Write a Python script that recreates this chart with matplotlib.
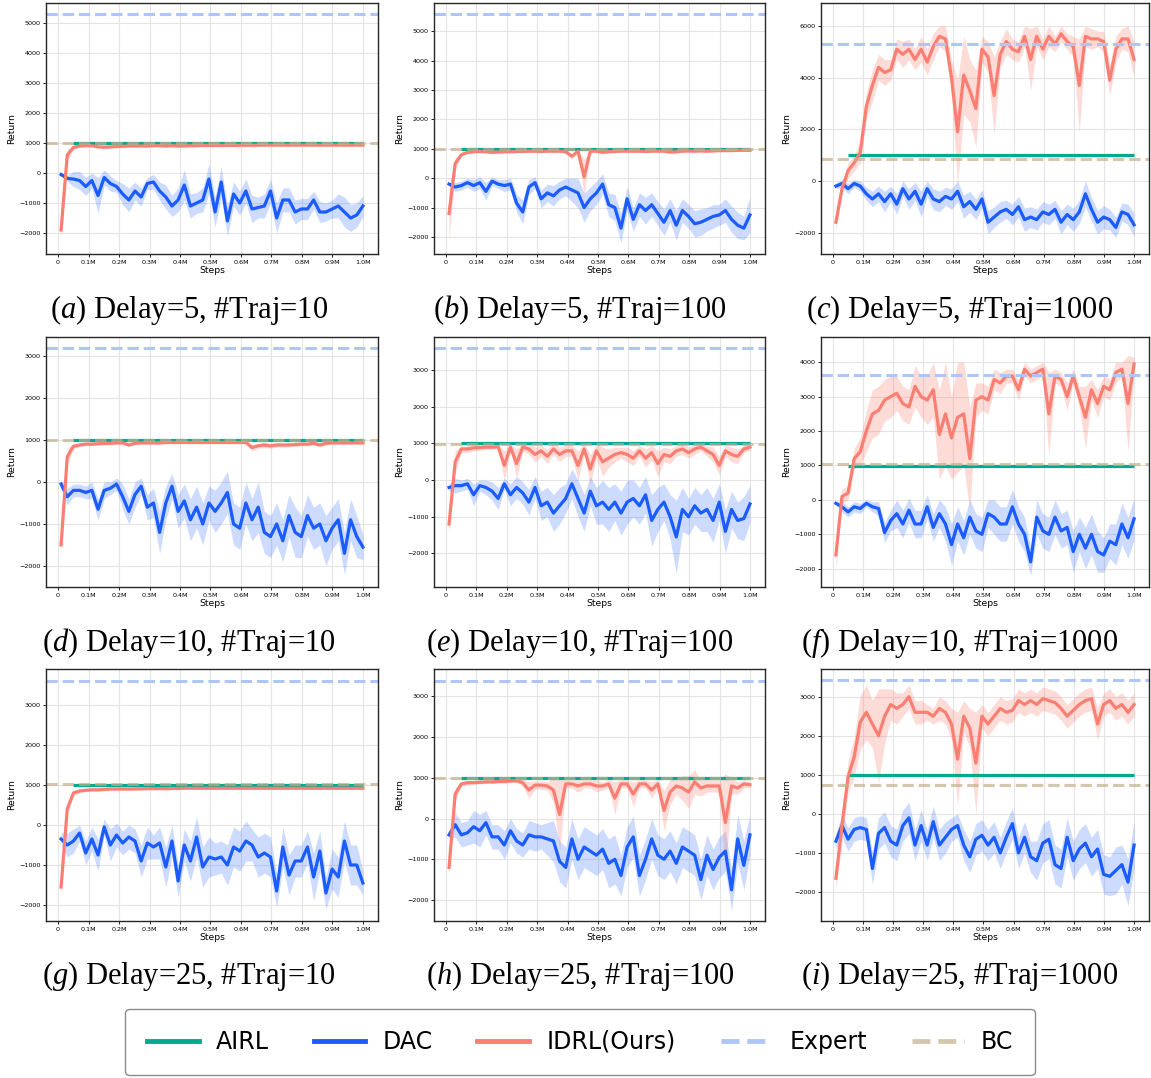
import numpy as np
import matplotlib
matplotlib.use("Agg")
import matplotlib.pyplot as plt
from matplotlib.lines import Line2D
from matplotlib.ticker import MultipleLocator

plt.rcParams['mathtext.fontset'] = 'custom'
plt.rcParams['mathtext.rm'] = 'Liberation Serif'
plt.rcParams['mathtext.it'] = 'Liberation Serif:italic'

# ---------------- data ----------------
steps = np.linspace(0.01, 1.0, 50)   # in millions
xtick_vals = [0, 0.1, 0.2, 0.3, 0.4, 0.5, 0.6, 0.7, 0.8, 0.9, 1.0]
xtick_labels = ['0', '0.1M', '0.2M', '0.3M', '0.4M', '0.5M', '0.6M', '0.7M', '0.8M', '0.9M', '1.0M']

captions = ['($a$) Delay=5, #Traj=10', '($b$) Delay=5, #Traj=100', '($c$) Delay=5, #Traj=1000',
            '($d$) Delay=10, #Traj=10', '($e$) Delay=10, #Traj=100', '($f$) Delay=10, #Traj=1000',
            '($g$) Delay=25, #Traj=10', '($h$) Delay=25, #Traj=100', '($i$) Delay=25, #Traj=1000']

expert_vals = [5289, 5579, 5289, 3182, 3599, 3623, 3609, 3385, 3436]
bc_vals = [1000, 1000, 845, 1010, 980, 1030, 1030, 990, 735]
airl_vals = [995, 995, 1000, 990, 1000, 990, 990, 1000, 1000]
airl_start = 0.05
airl_end = 1.0

# (a)
dac_a = [-50, -180, -200, -250, -450, -250, -750, -150, -350, -450,
         -700, -900, -600, -800, -350, -300, -600, -800, -1100, -900,
         -400, -1100, -1000, -900, -200, -1300, -300, -1600, -700, -1000,
         -600, -1200, -1150, -1100, -600, -1500, -900, -900, -1300, -1200,
         -1200, -900, -1300, -1300, -1200, -1100, -1300, -1500, -1400, -1100]
dac_a_sd = [50, 100, 250, 300, 300, 250, 600, 250, 250, 200,
            350, 400, 300, 300, 200, 250, 300, 400, 350, 400,
            500, 400, 350, 400, 500, 500, 500, 500, 400, 400,
            400, 450, 350, 400, 400, 500, 400, 400, 400, 350,
            350, 300, 350, 300, 300, 400, 500, 450, 400, 350]
idrl_a = [-1900, 600, 850, 900, 910, 910, 870, 860, 870, 880,
          890, 900, 900, 900, 900, 910, 910, 900, 910, 900,
          900, 910, 910, 920, 920, 920, 920, 920, 920, 925,
          925, 925, 925, 930, 930, 930, 930, 930, 930, 930,
          930, 930, 930, 930, 930, 930, 930, 930, 930, 930]
idrl_a_sd = [400, 200, 60, 30, 30, 30, 30, 30, 30, 30,
             30, 30, 30, 30, 30, 30, 30, 30, 30, 30,
             30, 30, 30, 30, 30, 30, 30, 30, 30, 30,
             30, 30, 30, 30, 30, 30, 30, 30, 30, 30,
             30, 30, 30, 30, 30, 30, 30, 30, 30, 30]

# (b)
dac_b = [-200, -300, -250, -150, -250, -150, -450, -100, -200, -250,
         -200, -850, -1150, -300, -150, -700, -500, -600, -400, -300,
         -400, -500, -1000, -700, -500, -200, -900, -1000, -1700, -700,
         -1400, -900, -1100, -900, -1200, -1500, -1100, -1600, -1100, -1300,
         -1550, -1500, -1400, -1300, -1250, -1100, -1400, -1600, -1700, -1250]
dac_b_sd = [50, 150, 150, 150, 200, 200, 300, 150, 150, 200,
            200, 300, 400, 250, 200, 300, 300, 350, 300, 300,
            400, 500, 500, 400, 400, 350, 400, 450, 500, 400,
            400, 400, 450, 400, 400, 450, 400, 500, 400, 400,
            450, 450, 400, 400, 350, 400, 450, 450, 400, 600]
idrl_b = [-1200, 500, 800, 880, 900, 910, 900, 880, 890, 900,
          900, 910, 910, 920, 920, 910, 920, 920, 920, 900,
          750, 920, 50, 920, 920, 880, 900, 910, 920, 920,
          920, 920, 910, 920, 920, 920, 890, 900, 920, 930,
          920, 930, 920, 930, 940, 940, 940, 950, 950, 950]
idrl_b_sd = [900, 200, 60, 40, 30, 30, 30, 30, 30, 30,
             30, 30, 30, 30, 30, 30, 30, 30, 30, 40,
             100, 40, 600, 40, 30, 40, 40, 40, 40, 40,
             40, 40, 40, 40, 40, 40, 60, 40, 40, 40,
             40, 40, 40, 40, 40, 40, 40, 40, 40, 40]

# (c)
dac_c = [-200, -100, -300, -100, -200, -500, -700, -500, -800, -500,
         -900, -300, -700, -400, -900, -300, -700, -800, -600, -700,
         -400, -1000, -800, -1100, -700, -1600, -1400, -1200, -1100, -1300,
         -1000, -1500, -1400, -1500, -1200, -1300, -1100, -1600, -1300, -1500,
         -1200, -500, -1100, -1600, -1400, -1500, -1800, -1200, -1300, -1700]
dac_c_sd = [100, 150, 200, 150, 200, 250, 300, 300, 400, 300,
            400, 300, 400, 350, 500, 300, 400, 400, 350, 400,
            400, 450, 400, 400, 350, 450, 400, 400, 350, 400,
            400, 450, 400, 400, 400, 400, 350, 450, 400, 450,
            450, 500, 450, 450, 450, 400, 400, 350, 400, 450]
idrl_c = [-1600, -300, 400, 700, 1100, 2900, 3700, 4400, 4200, 4300,
          5100, 4900, 5100, 4700, 5100, 4600, 5200, 5600, 5500, 4000,
          1900, 4100, 3500, 2800, 5100, 4800, 3300, 4900, 5400, 5100,
          5000, 5600, 4700, 5600, 5100, 5600, 5300, 5700, 5400, 5200,
          3700, 5600, 5500, 5500, 5400, 3900, 5100, 5500, 5500, 4700]
idrl_c_sd = [300, 200, 300, 300, 400, 500, 600, 500, 500, 400,
             400, 500, 400, 400, 500, 500, 500, 400, 500, 700,
             2000, 1500, 1200, 1500, 500, 600, 1500, 500, 500, 400,
             400, 400, 1200, 400, 400, 400, 300, 300, 300, 400,
             1800, 400, 400, 300, 400, 600, 500, 400, 500, 700]

# (d)
dac_d = [-50, -350, -200, -200, -250, -200, -650, -200, -150, -50,
         -350, -700, -300, -100, -600, -500, -1200, -500, -100, -700,
         -450, -900, -600, -1000, -500, -700, -500, -250, -1000, -1100,
         -500, -900, -600, -1200, -1300, -1000, -1400, -800, -1200, -1300,
         -800, -1100, -1000, -1400, -1100, -900, -1700, -900, -1300, -1550]
dac_d_sd = [100, 200, 150, 150, 150, 200, 250, 200, 150, 150,
            300, 300, 300, 200, 300, 350, 500, 400, 300, 400,
            400, 500, 500, 500, 400, 500, 500, 500, 500, 500,
            500, 500, 600, 500, 500, 500, 500, 500, 600, 500,
            500, 500, 500, 600, 500, 500, 500, 500, 500, 300]
idrl_d = [-1500, 600, 850, 880, 900, 900, 910, 920, 920, 930,
          930, 880, 920, 930, 930, 930, 930, 940, 940, 940,
          940, 940, 940, 940, 940, 940, 940, 940, 940, 940,
          940, 820, 860, 880, 860, 880, 880, 880, 890, 900,
          900, 920, 880, 920, 930, 930, 930, 930, 930, 930]
idrl_d_sd = [300, 200, 60, 40, 30, 30, 30, 30, 30, 30,
             30, 40, 30, 30, 30, 30, 30, 30, 30, 30,
             30, 30, 30, 30, 30, 30, 30, 30, 30, 30,
             30, 80, 60, 60, 60, 50, 50, 50, 40, 40,
             40, 40, 50, 40, 30, 30, 30, 30, 30, 30]

# (e)
dac_e = [-200, -150, -150, -100, -400, -150, -200, -300, -500, -100,
         -400, -200, -350, -600, -200, -700, -600, -900, -700, -500,
         -100, -500, -900, -300, -700, -600, -800, -600, -900, -600,
         -500, -700, -400, -1100, -800, -600, -1000, -1550, -800, -1000,
         -700, -900, -800, -1100, -600, -1400, -800, -1100, -1050, -650]
dac_e_sd = [100, 200, 150, 150, 300, 150, 200, 250, 300, 150,
            300, 300, 300, 350, 300, 400, 400, 500, 500, 400,
            400, 500, 500, 400, 500, 600, 600, 500, 600, 600,
            500, 500, 500, 700, 600, 500, 600, 1000, 600, 500,
            500, 500, 600, 600, 500, 600, 500, 500, 600, 500]
idrl_e = [-1200, 500, 850, 850, 880, 890, 900, 900, 910, 400,
          900, 450, 900, 850, 700, 800, 650, 850, 700, 800,
          800, 400, 850, 300, 800, 500, 600, 700, 750, 700,
          600, 800, 600, 750, 450, 700, 650, 800, 850, 750,
          850, 900, 800, 700, 400, 800, 700, 650, 850, 900]
idrl_e_sd = [200, 300, 100, 100, 80, 80, 60, 60, 60, 400,
             100, 400, 100, 150, 200, 150, 200, 150, 200, 150,
             150, 400, 150, 400, 200, 400, 250, 200, 150, 200,
             200, 150, 250, 200, 350, 200, 200, 150, 150, 150,
             150, 100, 150, 200, 250, 150, 200, 200, 100, 80]

# (f)
dac_f = [-100, -200, -350, -200, -250, -100, -200, -250, -950, -600,
         -400, -700, -300, -700, -700, -200, -800, -400, -700, -1300,
         -700, -1100, -500, -900, -1000, -400, -500, -700, -700, -200,
         -700, -1000, -1800, -500, -900, -1000, -500, -900, -800, -1500,
         -1000, -1400, -1000, -1500, -1600, -1200, -1300, -700, -1100, -550]
dac_f_sd = [50, 150, 150, 150, 150, 100, 150, 200, 300, 300,
            400, 400, 350, 400, 400, 350, 400, 400, 500, 600,
            500, 500, 500, 500, 500, 400, 500, 500, 500, 500,
            500, 500, 400, 500, 500, 500, 500, 500, 500, 600,
            500, 600, 600, 600, 500, 500, 600, 600, 600, 600]
idrl_f = [-1600, 100, 200, 1200, 1400, 2000, 2500, 2600, 2900, 3000,
          3100, 2800, 2700, 3300, 3000, 2900, 3200, 1900, 2500, 1800,
          2400, 2500, 1200, 2900, 3000, 2900, 3500, 3400, 3600, 3600,
          3200, 3800, 3600, 3700, 3800, 2500, 3600, 3500, 3000, 3600,
          3000, 2400, 3200, 2800, 3300, 3200, 3700, 3800, 2800, 3950]
idrl_f_sd = [400, 200, 200, 300, 400, 600, 700, 700, 600, 600,
             500, 500, 500, 600, 600, 700, 800, 1300, 1500, 1200,
             1600, 1500, 1500, 500, 400, 400, 300, 300, 200, 200,
             300, 200, 200, 200, 200, 1200, 200, 200, 400, 200,
             300, 900, 300, 400, 300, 300, 300, 200, 1400, 200]

# (g)
dac_g = [-350, -500, -400, -200, -700, -350, -750, -50, -500, -250,
         -450, -300, -400, -900, -450, -550, -450, -1050, -400, -1400,
         -500, -900, -300, -1050, -800, -850, -800, -1000, -550, -650,
         -400, -500, -800, -700, -800, -1650, -550, -1250, -900, -900,
         -550, -1300, -650, -1700, -1100, -1300, -400, -1000, -1000, -1450]
dac_g_sd = [150, 300, 300, 200, 300, 300, 400, 200, 400, 300,
            300, 300, 300, 400, 400, 300, 400, 500, 400, 400,
            400, 500, 500, 500, 500, 400, 400, 500, 500, 500,
            500, 400, 500, 500, 500, 400, 500, 500, 400, 400,
            400, 600, 500, 400, 500, 500, 500, 500, 500, 300]
idrl_g = [-1550, 400, 800, 850, 870, 880, 880, 890, 900, 900,
          900, 900, 905, 905, 910, 910, 910, 910, 915, 915,
          920, 920, 920, 920, 920, 920, 920, 920, 920, 920,
          920, 920, 920, 920, 920, 920, 920, 920, 920, 920,
          920, 920, 920, 920, 920, 920, 920, 920, 920, 920]
idrl_g_sd = [200, 150, 60, 40, 30, 30, 30, 30, 30, 30,
             30, 30, 30, 30, 30, 30, 30, 30, 30, 30,
             30, 30, 30, 30, 30, 30, 30, 30, 30, 30,
             30, 30, 30, 30, 30, 30, 30, 30, 30, 30,
             30, 30, 30, 30, 30, 30, 30, 30, 30, 30]

# (h)
dac_h = [-400, -150, -400, -350, -200, -300, -100, -450, -450, -650,
         -300, -550, -650, -400, -450, -450, -500, -550, -1050, -1200,
         -500, -1000, -700, -800, -900, -750, -1100, -1000, -1400, -700,
         -450, -1400, -1000, -500, -900, -1000, -800, -1100, -700, -800,
         -900, -1500, -900, -1250, -950, -800, -1750, -500, -1150, -400]
dac_h_sd = [100, 300, 300, 300, 400, 400, 300, 300, 300, 350,
            300, 300, 300, 350, 350, 300, 400, 500, 500, 500,
            500, 500, 500, 500, 500, 500, 600, 600, 500, 500,
            500, 500, 500, 500, 500, 500, 500, 500, 500, 500,
            500, 500, 500, 500, 500, 500, 500, 600, 600, 500]
idrl_h = [-1200, 600, 850, 880, 880, 890, 900, 900, 910, 910,
          920, 930, 880, 700, 820, 820, 800, 700, 100, 850,
          850, 800, 850, 850, 800, 800, 850, 500, 850, 850,
          600, 850, 850, 700, 850, 200, 650, 800, 750, 650,
          900, 750, 800, 800, 800, -100, 800, 750, 850, 830]
idrl_h_sd = [200, 150, 60, 50, 40, 40, 40, 40, 40, 40,
             40, 40, 80, 200, 100, 100, 100, 300, 900, 100,
             100, 150, 100, 100, 150, 100, 100, 400, 100, 100,
             300, 100, 100, 200, 100, 500, 300, 200, 300, 400,
             300, 200, 150, 150, 150, 1200, 200, 150, 100, 80]

# (i)
dac_i = [-700, -300, -650, -400, -350, -400, -1400, -500, -350, -700,
         -800, -300, -100, -800, -300, -800, -200, -800, -600, -400,
         -300, -800, -1100, -650, -550, -800, -600, -1000, -600, -250,
         -1000, -600, -1100, -1200, -750, -650, -1300, -1400, -600, -1200,
         -900, -750, -1100, -900, -1550, -1600, -1450, -1300, -1750, -800]
dac_i_sd = [200, 300, 300, 300, 300, 300, 400, 400, 400, 400,
            400, 400, 400, 400, 400, 400, 400, 400, 400, 300,
            300, 400, 400, 400, 400, 400, 400, 400, 400, 400,
            400, 400, 400, 500, 500, 500, 500, 500, 500, 500,
            500, 500, 500, 500, 500, 500, 600, 500, 600, 600]
idrl_i = [-1650, -300, 950, 1450, 2350, 2600, 2300, 2000, 2500, 2800,
          2700, 2800, 3000, 2600, 2600, 2600, 2500, 2700, 2600, 2300,
          1400, 2500, 2200, 1300, 2500, 2300, 2500, 2700, 2600, 2650,
          2900, 2800, 2900, 2800, 2950, 2900, 2850, 2700, 2500, 2650,
          2800, 2900, 2950, 2300, 2800, 2900, 2700, 2800, 2600, 2800]
idrl_i_sd = [300, 400, 400, 500, 700, 700, 600, 1200, 700, 400,
             400, 300, 300, 300, 300, 200, 200, 300, 300, 400,
             1200, 400, 500, 1300, 300, 300, 300, 300, 300, 300,
             300, 300, 300, 300, 300, 300, 300, 300, 300, 300,
             300, 300, 300, 400, 300, 300, 300, 300, 300, 300]

dac_all = [dac_a, dac_b, dac_c, dac_d, dac_e, dac_f, dac_g, dac_h, dac_i]
dac_sd_all = [dac_a_sd, dac_b_sd, dac_c_sd, dac_d_sd, dac_e_sd, dac_f_sd, dac_g_sd, dac_h_sd, dac_i_sd]
idrl_all = [idrl_a, idrl_b, idrl_c, idrl_d, idrl_e, idrl_f, idrl_g, idrl_h, idrl_i]
idrl_sd_all = [idrl_a_sd, idrl_b_sd, idrl_c_sd, idrl_d_sd, idrl_e_sd, idrl_f_sd, idrl_g_sd, idrl_h_sd, idrl_i_sd]

# ---------------- style / layout ----------------
AIRL_C = '#00a98f'
DAC_C = '#1a5cff'
IDRL_C = '#fa7f72'
EXP_C = '#aec5f8'
BC_C = '#c3b08b'

ylims = [(-2700, 5667), (-2580, 5965), (-2830, 6890),
         (-2500, 3450), (-2917, 3907), (-2531, 4734),
         (-2400, 3901), (-2516, 3672), (-2744, 3709)]
ysteps = [1000, 1000, 2000, 1000, 1000, 1000, 1000, 1000, 1000]

W, H = 1151, 1078
col_px = [(46, 378), (434, 765), (821, 1149)]
row_px = [(3, 254), (337, 587), (669, 921)]
cap_x = [189, 580, 960]
cap_y = [310, 643, 976]

fig = plt.figure(figsize=(W / 100, H / 100), dpi=100)

for i in range(9):
    r, c = divmod(i, 3)
    l, rr = col_px[c]
    t, b = row_px[r]
    ax = fig.add_axes([l / W, 1 - b / H, (rr - l) / W, (b - t) / H])
    dac = np.array(dac_all[i], dtype=float)
    dsd = np.array(dac_sd_all[i], dtype=float)
    idr = np.array(idrl_all[i], dtype=float)
    isd = np.array(idrl_sd_all[i], dtype=float)
    ax.fill_between(steps, dac - dsd, dac + dsd, color=DAC_C, alpha=0.22, lw=0)
    ax.fill_between(steps, idr - isd, idr + isd, color=IDRL_C, alpha=0.28, lw=0)
    ax.hlines(airl_vals[i], airl_start, airl_end, color=AIRL_C, lw=2.3)
    ax.plot(steps, dac, color=DAC_C, lw=2.3)
    ax.plot(steps, idr, color=IDRL_C, lw=2.3)
    ax.axhline(expert_vals[i], color=EXP_C, lw=2.2, ls='--')
    ax.axhline(bc_vals[i], color=BC_C, lw=2.2, ls='--', alpha=0.7)
    ax.set_xlim(-0.0395, 1.0495)
    ax.set_ylim(*ylims[i])
    ax.set_xticks(xtick_vals)
    ax.set_xticklabels(xtick_labels)
    ax.yaxis.set_major_locator(MultipleLocator(ysteps[i]))
    ax.grid(True, color='#e4e4e4', lw=0.8)
    ax.set_axisbelow(True)
    ax.tick_params(labelsize=4.6, length=2.5, width=0.6, pad=1.5)
    ax.set_xlabel('Steps', fontsize=6.7, labelpad=1)
    ax.set_ylabel('Return', fontsize=6.7, labelpad=2)
    for s in ax.spines.values():
        s.set_color('0.15')
        s.set_linewidth(1.0)
    fig.text(cap_x[c] / W, 1 - cap_y[r] / H, captions[i], fontsize=22,
             family='Liberation Serif', ha='center', va='center')

handles = [Line2D([], [], color=AIRL_C, lw=3.5),
           Line2D([], [], color=DAC_C, lw=3.5),
           Line2D([], [], color=IDRL_C, lw=3.5),
           Line2D([], [], color=EXP_C, lw=3.5, ls='--'),
           Line2D([], [], color=BC_C, lw=3.5, ls='--', alpha=0.7)]
labels = ['AIRL', 'DAC', 'IDRL(Ours)', 'Expert', 'BC']
leg = fig.legend(handles, labels, loc='center', bbox_to_anchor=(580 / W, 1 - 1042 / H),
                 ncol=5, fontsize=17, handlelength=2.2, handletextpad=0.72,
                 columnspacing=1.9, borderpad=0.9, fancybox=True, framealpha=1)
leg.get_frame().set_edgecolor('0.55')
leg.get_frame().set_linewidth(1.0)

fig.savefig('out.png', dpi=100)
